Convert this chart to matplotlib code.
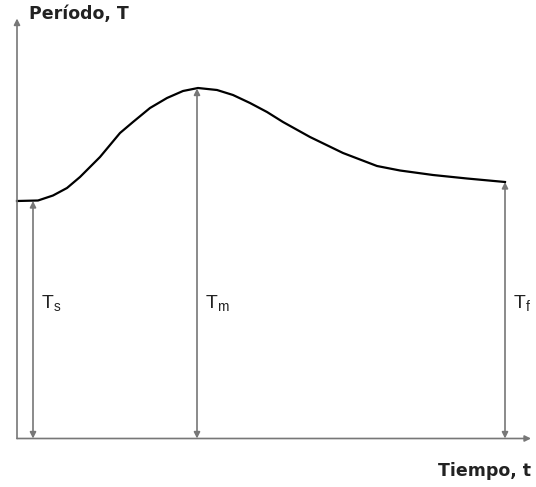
import matplotlib.pyplot as plt

plt.rcParams['font.family'] = ['Liberation Sans', 'DejaVu Sans']

# curva del periodo (unidades arbitrarias)
tiempo = [0.0, 0.42, 0.72, 1.0, 1.26, 1.46, 1.66, 1.86, 2.06, 2.32, 2.66, 3.0,
          3.32, 3.62, 4.0, 4.32, 4.66, 5.0, 5.32, 5.86, 6.52, 7.2, 7.66, 8.32, 9.0, 9.76]
periodo = [4.75, 4.76, 4.86, 5.01, 5.23, 5.43, 5.63, 5.87, 6.11, 6.33, 6.61, 6.81,
           6.95, 7.01, 6.97, 6.87, 6.71, 6.53, 6.33, 6.03, 5.71, 5.45, 5.36, 5.27, 5.2, 5.13]

t_marcas = [0.32, 3.6, 9.76]
T_marcas = [4.75, 7.0, 5.13]
etiquetas = ['T$_\\mathregular{s}$', 'T$_\\mathregular{m}$', 'T$_\\mathregular{f}$']

fig = plt.figure(figsize=(5.36, 4.87), dpi=100)
ax = fig.add_axes([0, 0, 1, 1])
ax.set_xlim(-0.34, 10.38)
ax.set_ylim(-0.97, 8.77)
ax.axis('off')

gris = '#777777'

# ejes con flechas
ax.annotate('', xy=(0, 8.4), xytext=(0, 0),
            arrowprops=dict(arrowstyle='-|>', color=gris, lw=1.2, mutation_scale=9,
                            shrinkA=0, shrinkB=0))
ax.annotate('', xy=(10.28, 0), xytext=(0, 0),
            arrowprops=dict(arrowstyle='-|>', color=gris, lw=1.2, mutation_scale=9,
                            shrinkA=0, shrinkB=0))

ax.plot(tiempo, periodo, color='black', lw=1.6, solid_joinstyle='round')

for t, T, lab in zip(t_marcas, T_marcas, etiquetas):
    ax.annotate('', xy=(t, 0), xytext=(t, T),
                arrowprops=dict(arrowstyle='<|-|>', color=gris, lw=1.2, mutation_scale=9,
                                shrinkA=0, shrinkB=0))
    ax.text(t + 0.16, 2.7, lab, fontsize=14, va='center', ha='left', color='#222222')

ax.text(0.24, 8.5, 'Período, T', fontsize=12.5, fontweight='bold', va='center', ha='left',
        color='#222222', family='DejaVu Sans')
ax.text(8.42, -0.64, 'Tiempo, t', fontsize=12.5, fontweight='bold', va='center', ha='left',
        color='#222222', family='DejaVu Sans')

fig.savefig('out.png', dpi=100)
